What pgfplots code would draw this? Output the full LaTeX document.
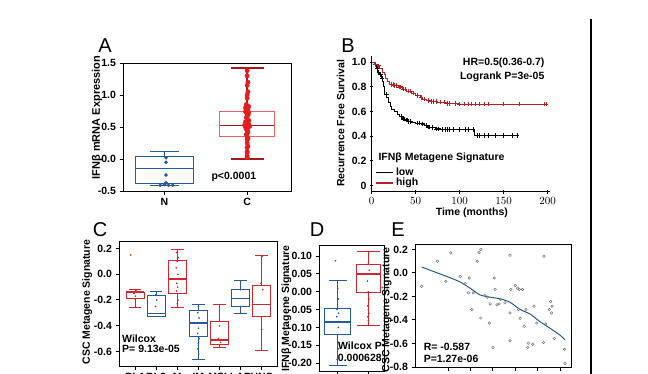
\documentclass[border=0pt]{standalone}
\usepackage{fontspec}
\setmainfont{Liberation Sans}
\usepackage{pgfplots}
\pgfplotsset{compat=1.18}
\usepgfplotslibrary{statistics}
\definecolor{gblue}{RGB}{40,90,150}
\definecolor{gred}{RGB}{205,40,50}
\definecolor{dred}{RGB}{165,25,30}
\definecolor{pred}{RGB}{232,100,100}
\definecolor{lred}{RGB}{228,30,30}
\definecolor{kmred}{RGB}{180,35,35}
\definecolor{egray}{RGB}{120,120,120}
\newcommand{\tf}{\bfseries\fontsize{10.5}{11}\selectfont}
\newcommand{\smf}{\bfseries\fontsize{10}{10}\selectfont}
\pgfplotsset{
  gp/.style={scale only axis, anchor=south west,
    axis line style={line width=1pt, black},
    tick align=outside, xtick pos=left, ytick pos=left,
    major tick length=3.5pt, tick style={black, line width=1pt},
    tick label style={font=\tf}, label style={font=\tf},
    boxplot/draw direction=y},
}
\begin{document}
\begin{tikzpicture}
\useasboundingbox (0pt,0pt) rectangle (648pt,373pt);
\clip (0pt,0pt) rectangle (648pt,373pt);
% panel letters
\node[font=\fontsize{20}{20}\selectfont] at (105pt,327pt) {A};
\node[font=\fontsize{20}{20}\selectfont] at (348pt,327pt) {B};
\node[font=\fontsize{20}{20}\selectfont] at (100pt,143pt) {C};
\node[font=\fontsize{20}{20}\selectfont] at (317pt,143pt) {D};
\node[font=\fontsize{20}{20}\selectfont] at (398pt,143pt) {E};
\draw[line width=2.7pt] (591pt,354pt) -- (591pt,-5pt);

% ---------------- A ----------------
\begin{axis}[gp, at={(123pt,182pt)}, width=168pt, height=128pt,
  xmin=0.5, xmax=2.53, ymin=-0.5, ymax=1.5,
  xtick={1,2}, xticklabels={N,C},
  ytick={-0.5,0,0.5,1,1.5}, yticklabels={-0.5,0.0,0.5,1.0,1.5},
  ylabel={IFNβ mRNA Expression},
  ylabel style={at={(axis description cs:-0.155,0.574)}, anchor=center, font=\bfseries\fontsize{11}{11}\selectfont}]
\addplot[boxplot prepared={draw position=1, lower whisker=-0.41, lower quartile=-0.38,
  median=-0.14, upper quartile=0.04, upper whisker=0.12, box extend=0.69, whisker extend=0.35},
  draw=gblue, line width=0.8pt] coordinates {};
\addplot[only marks, mark=*, mark size=1.6pt, gblue] coordinates {
 (1.02,0.02) (1.02,-0.05) (1.02,-0.25) (1.02,-0.37) (1.0,-0.40) (0.95,-0.41) (1.05,-0.41) (1.1,-0.41)};
\addplot[boxplot prepared={draw position=2, lower whisker=0.0, lower quartile=0.36,
  median=0.52, upper quartile=0.74, upper whisker=1.42, box extend=0.66, whisker extend=0.4},
  draw=pred, line width=0.7pt,
  boxplot/every whisker/.style={draw=dred, line width=1.6pt},
  boxplot/every median/.style={draw=dred, line width=0.9pt}] coordinates {};
\addplot[only marks, mark=*, mark size=2.2pt, lred] coordinates {
 (2.0,1.38) (2.0,1.30) (2.01,1.20) (2.0,1.15) (2.01,1.05) (2.0,1.0) (2.0,0.95)
 (1.99,0.85) (2.02,0.82) (1.98,0.80) (2.01,0.78) (2.0,0.76) (1.98,0.74) (2.02,0.72)
 (2.0,0.70) (2.01,0.68) (1.99,0.65) (2.0,0.62) (2.02,0.60) (1.98,0.58) (2.0,0.56)
 (2.02,0.54) (1.97,0.53) (2.0,0.52) (2.03,0.51) (1.98,0.50) (2.01,0.49) (2.0,0.48)
 (1.99,0.47) (2.0,0.45) (2.01,0.42) (2.0,0.40) (1.99,0.38) (2.0,0.35) (2.01,0.32)
 (2.0,0.30) (2.0,0.25) (2.01,0.20) (2.0,0.18) (2.0,0.12) (2.0,0.10) (2.0,0.05) (2.0,0.02)};
\node[font=\tf] at (axis cs:1.84,-0.277) {p<0.0001};
\end{axis}

% ---------------- B ----------------
\begin{axis}[gp, at={(371.7pt,181.1pt)}, width=178pt, height=136pt,
  axis lines=left, axis line style={-, line width=1pt},
  xmin=0, xmax=202.3, ymin=-0.05, ymax=1.05,
  xtick={0,50,100,150,200}, ytick={0,0.2,0.4,0.6,0.8,1.0},
  yticklabels={0,0.2,0.4,0.6,0.8,1.0},
  xlabel={Time (months)}, ylabel={Recurrence Free Survival},
  xlabel style={at={(axis description cs:0.563,-0.153)}, anchor=center},
  ylabel style={at={(axis description cs:-0.174,0.504)}, anchor=center},
  legend style={at={(axis cs:4,0.16)}, anchor=north west, draw=none, fill=none,
    font=\tf, inner sep=0pt, row sep=-3pt, cells={anchor=west}},
  legend image code/.code={\draw[#1, line width=1.6pt] (0pt,0pt) -- (17pt,0pt);}]
\addplot[const plot, black, line width=0.9pt] coordinates {
 (0,1) (3,0.98) (5,0.95) (7,0.92) (9,0.9) (11,0.87) (12,0.84) (13,0.8) (14,0.77)
 (15,0.74) (17,0.71) (19,0.67) (21,0.64) (23,0.62) (26,0.6) (29,0.58) (32,0.56)
 (35,0.54) (38,0.53) (41,0.52) (45,0.51) (50,0.505) (56,0.5) (60,0.49) (63,0.475)
 (67,0.47) (72,0.46) (78,0.455) (117,0.405) (166,0.405)};
\addlegendentry{low}
\addplot[const plot, kmred, line width=0.9pt] coordinates {
 (0,1) (3,0.98) (6,0.97) (9,0.95) (12,0.92) (14,0.9) (16,0.87) (18,0.84) (20,0.82)
 (25,0.81) (30,0.8) (35,0.78) (40,0.765) (45,0.75) (50,0.73) (55,0.715) (58,0.7)
 (62,0.69) (67,0.68) (75,0.675) (85,0.665) (100,0.66) (199,0.66)};
\addlegendentry{high}
\addplot[forget plot, only marks, mark=+, mark size=2.2pt, black, line width=0.6pt] coordinates {
 (6,0.95) (8,0.92) (10,0.9) (12,0.87) (17,0.74) (34,0.56) (36,0.54) (37,0.54) (39,0.53)
 (40,0.53) (42,0.52) (44,0.52) (52,0.505) (54,0.505) (58,0.5) (62,0.49) (64,0.475)
 (66,0.475) (69,0.47) (73,0.46) (76,0.46) (80,0.455) (84,0.455) (86,0.455) (88,0.455)
 (93,0.455) (100,0.455) (106,0.455) (110,0.455) (115,0.455) (120,0.405) (122,0.405)
 (128,0.405) (132,0.405) (140,0.405) (150,0.405) (160,0.405) (165,0.405)};
\addplot[forget plot, only marks, mark=+, mark size=2.2pt, kmred, line width=0.6pt] coordinates {
 (4,0.98) (8,0.97) (22,0.82) (24,0.82) (26,0.81) (28,0.81) (31,0.8) (33,0.8) (36,0.78)
 (38,0.78) (42,0.765) (44,0.765) (47,0.75) (52,0.73) (56,0.715) (60,0.7) (64,0.69)
 (68,0.68) (70,0.68) (73,0.68) (78,0.675) (83,0.675) (86,0.665) (88,0.665) (95,0.665)
 (100,0.66) (105,0.66) (110,0.66) (113,0.66) (118,0.66) (122,0.66) (128,0.66)
 (133,0.66) (150,0.66) (168,0.66) (196,0.66) (198,0.66)};
\node[font=\tf, anchor=west] at (axis cs:3.8,0.224) {IFNβ Metagene Signature};
\node[font=\tf, anchor=east] at (axis cs:200.3,0.995) {HR=0.5(0.36-0.7)};
\node[font=\tf, anchor=east] at (axis cs:200.3,0.884) {Logrank P=3e-05};
\end{axis}

% ---------------- C ----------------
\begin{axis}[gp, at={(119pt,7pt)}, width=159pt, height=124pt,
  xmin=0.24, xmax=7.77, ymin=-0.7136, ymax=0.251,
  xtick={1,2,3,4,5,6,7}, xticklabels={BL1,BL2,M,IM,MSL,LAR,UNS},
  ytick={-0.6,-0.4,-0.2,0,0.2}, yticklabels={-0.6,-0.4,-0.2,0.0,0.2},
  ylabel={CSC Metagene Signature},
  ylabel style={at={(axis description cs:-0.2,0.515)}, anchor=center},
  boxplot/every median/.style={line width=1.6pt}]
\addplot[boxplot prepared={draw position=1, lower whisker=-0.26, lower quartile=-0.187,
  median=-0.14, upper quartile=-0.14, upper whisker=-0.117, box extend=0.86, whisker extend=0.6},
  draw=gred, line width=0.8pt] coordinates {};
\addplot[boxplot prepared={draw position=2, lower whisker=-0.33, lower quartile=-0.33,
  median=-0.304, upper quartile=-0.161, upper whisker=-0.135, box extend=0.84, whisker extend=0.6},
  draw=gblue, line width=0.8pt] coordinates {};
\addplot[boxplot prepared={draw position=3, lower whisker=-0.26, lower quartile=-0.148,
  median=-0.039, upper quartile=0.104, upper whisker=0.195, box extend=0.86, whisker extend=0.6},
  draw=gred, line width=0.8pt] coordinates {};
\addplot[boxplot prepared={draw position=4, lower whisker=-0.662, lower quartile=-0.486,
  median=-0.377, upper quartile=-0.278, upper whisker=-0.234, box extend=0.84, whisker extend=0.6},
  draw=gblue, line width=0.8pt] coordinates {};
\addplot[boxplot prepared={draw position=5, lower whisker=-0.571, lower quartile=-0.545,
  median=-0.512, upper quartile=-0.369, upper whisker=-0.234, box extend=0.84, whisker extend=0.6},
  draw=gred, line width=0.8pt] coordinates {};
\addplot[boxplot prepared={draw position=6, lower whisker=-0.304, lower quartile=-0.247,
  median=-0.187, upper quartile=-0.117, upper whisker=-0.044, box extend=0.84, whisker extend=0.6},
  draw=gblue, line width=0.8pt] coordinates {};
\addplot[boxplot prepared={draw position=7, lower whisker=-0.595, lower quartile=-0.33,
  median=-0.234, upper quartile=-0.088, upper whisker=0.145, box extend=0.86, whisker extend=0.6},
  draw=gred, line width=0.8pt] coordinates {};
\addplot[only marks, mark=*, mark size=0.6pt, gred] coordinates {
 (0.8,0.15) (1.05,-0.13) (0.95,-0.15) (1.02,-0.17) (0.98,-0.19)
 (3.02,0.19) (2.97,0.17) (3.05,0.13) (3.0,0.1) (2.95,0.05) (3.03,0.0) (2.98,-0.07)
 (3.02,-0.1) (2.97,-0.13) (3.03,-0.2) (3.0,-0.23)
 (5.0,-0.4) (4.95,-0.5) (5.05,-0.53)
 (7.02,0.14) (6.97,-0.07) (7.05,-0.12) (7.0,-0.43) (6.98,-0.33)};
\addplot[only marks, mark=*, mark size=0.6pt, gblue] coordinates {
 (1.98,-0.16) (2.03,-0.2) (1.97,-0.25)
 (4.0,-0.25) (3.97,-0.3) (4.03,-0.34) (4.0,-0.42) (3.96,-0.46) (4.04,-0.5) (4.0,-0.54)
 (3.98,-0.58) (4.02,-0.62) (4.0,-0.65)
 (6.0,-0.12) (6.02,-0.25)};
\node[font=\tf, anchor=west, inner sep=0.5pt] at (axis cs:0.36,-0.503) {Wilcox};
\node[font=\tf, anchor=west, inner sep=0.5pt] at (axis cs:0.36,-0.578) {P= 9.13e-05};
\end{axis}

% ---------------- D ----------------
\begin{axis}[gp, at={(319pt,1.3pt)}, width=65.3pt, height=126.7pt,
  xmin=0.39, xmax=2.52, ymin=-0.224, ymax=0.131,
  xtick={1,2}, xticklabels={,},
  ytick={-0.2,-0.15,-0.1,-0.05,0,0.05,0.1},
  yticklabels={-0.20,-0.15,-0.10,-0.05,0.00,0.05,0.10},
  ylabel={IFNβ Metagene Signature},
  ylabel style={at={(axis description cs:-0.5,0.5)}, anchor=center},
  boxplot/every median/.style={line width=1.6pt}]
\addplot[boxplot prepared={draw position=1, lower whisker=-0.207, lower quartile=-0.119,
  median=-0.084, upper quartile=-0.047, upper whisker=0.031, box extend=0.85, whisker extend=0.6},
  draw=gblue, line width=0.8pt] coordinates {};
\addplot[boxplot prepared={draw position=2, lower whisker=-0.093, lower quartile=-0.003,
  median=0.049, upper quartile=0.078, upper whisker=0.112, box extend=0.78, whisker extend=0.75},
  draw=gred, line width=0.8pt] coordinates {};
\addplot[only marks, mark=*, mark size=0.6pt, gblue] coordinates {
 (0.93,0.087) (1.0,0.01) (1.02,-0.02) (0.98,-0.05) (1.03,-0.06) (0.97,-0.07) (1.02,-0.1)
 (0.98,-0.12) (1.0,-0.14) (1.03,-0.16) (0.98,-0.19)};
\addplot[only marks, mark=*, mark size=0.6pt, gred] coordinates {
 (2.0,0.08) (2.03,0.06) (1.97,0.03) (2.0,0.0) (2.02,-0.02) (1.98,-0.04) (2.0,-0.05)
 (2.02,-0.06) (1.98,-0.07) (2.0,-0.08)};
\node[font=\tf, anchor=east, inner sep=0.5pt] at (axis cs:2.46,-0.152) {Wilcox P};
\node[font=\tf, anchor=east, inner sep=0.5pt] at (axis cs:2.46,-0.185) {0.000628};
\end{axis}

% ---------------- E ----------------
\begin{axis}[gp, at={(415pt,6pt)}, width=156.7pt, height=122pt,
  xmin=-0.274, xmax=0.076, ymin=-0.8, ymax=0.238,
  xtick={-0.2,-0.15,-0.1,-0.05,0,0.05}, xticklabels={,,,,,},
  ytick={-0.8,-0.6,-0.4,-0.2,0,0.2}, yticklabels={-0.8,-0.6,-0.4,-0.2,0.0,0.2},
  ylabel={CSC Metagene Signature},
  ylabel style={at={(axis description cs:-0.18,0.467)}, anchor=center}]
\addplot[only marks, mark=o, mark size=1.3pt, egray, line width=0.5pt] coordinates {
 (-0.259,-0.114) (-0.224,0.100) (-0.205,-0.071) (-0.194,0.171) (-0.173,-0.029)
 (-0.162,-0.091) (-0.153,-0.043) (-0.155,-0.169) (-0.144,-0.169) (-0.147,-0.311)
 (-0.135,0.100) (-0.131,0.174) (-0.127,0.200) (-0.127,-0.383) (-0.118,-0.191)
 (-0.112,-0.206) (-0.108,-0.426) (-0.106,-0.263) (-0.100,-0.634) (-0.097,-0.043)
 (-0.095,-0.140) (-0.091,-0.271) (-0.086,-0.263) (-0.083,-0.226) (-0.073,-0.254)
 (-0.062,0.151) (-0.060,-0.140) (-0.062,-0.340) (-0.050,-0.106) (-0.045,-0.129)
 (-0.041,-0.140) (-0.034,-0.140) (-0.043,-0.311) (-0.062,-0.577) (-0.039,-0.386)
 (-0.026,-0.311) (-0.030,-0.454) (-0.021,-0.597) (-0.022,-0.634) (-0.008,-0.283)
 (-0.011,-0.606) (-0.002,-0.426) (0.014,0.143) (0.018,-0.434) (0.029,-0.243)
 (0.032,-0.283) (0.026,-0.311) (0.031,-0.340) (0.037,-0.557) (0.060,-0.649)
 (0.061,-0.769) (0.013,-0.591)};
\addplot[gblue, line width=1pt, smooth] coordinates {
 (-0.259,0.051) (-0.226,0.003) (-0.200,-0.034) (-0.173,-0.077) (-0.151,-0.129)
 (-0.129,-0.186) (-0.106,-0.206) (-0.084,-0.220) (-0.062,-0.249) (-0.039,-0.311)
 (-0.017,-0.349) (0.005,-0.414) (0.028,-0.471) (0.050,-0.529) (0.061,-0.569)};
\node[font=\tf, anchor=west, inner sep=0.5pt] at (axis cs:-0.256,-0.630) {R= -0.587};
\node[font=\tf, anchor=west, inner sep=0.5pt] at (axis cs:-0.256,-0.735) {P=1.27e-06};
\end{axis}
\end{tikzpicture}
\end{document}
